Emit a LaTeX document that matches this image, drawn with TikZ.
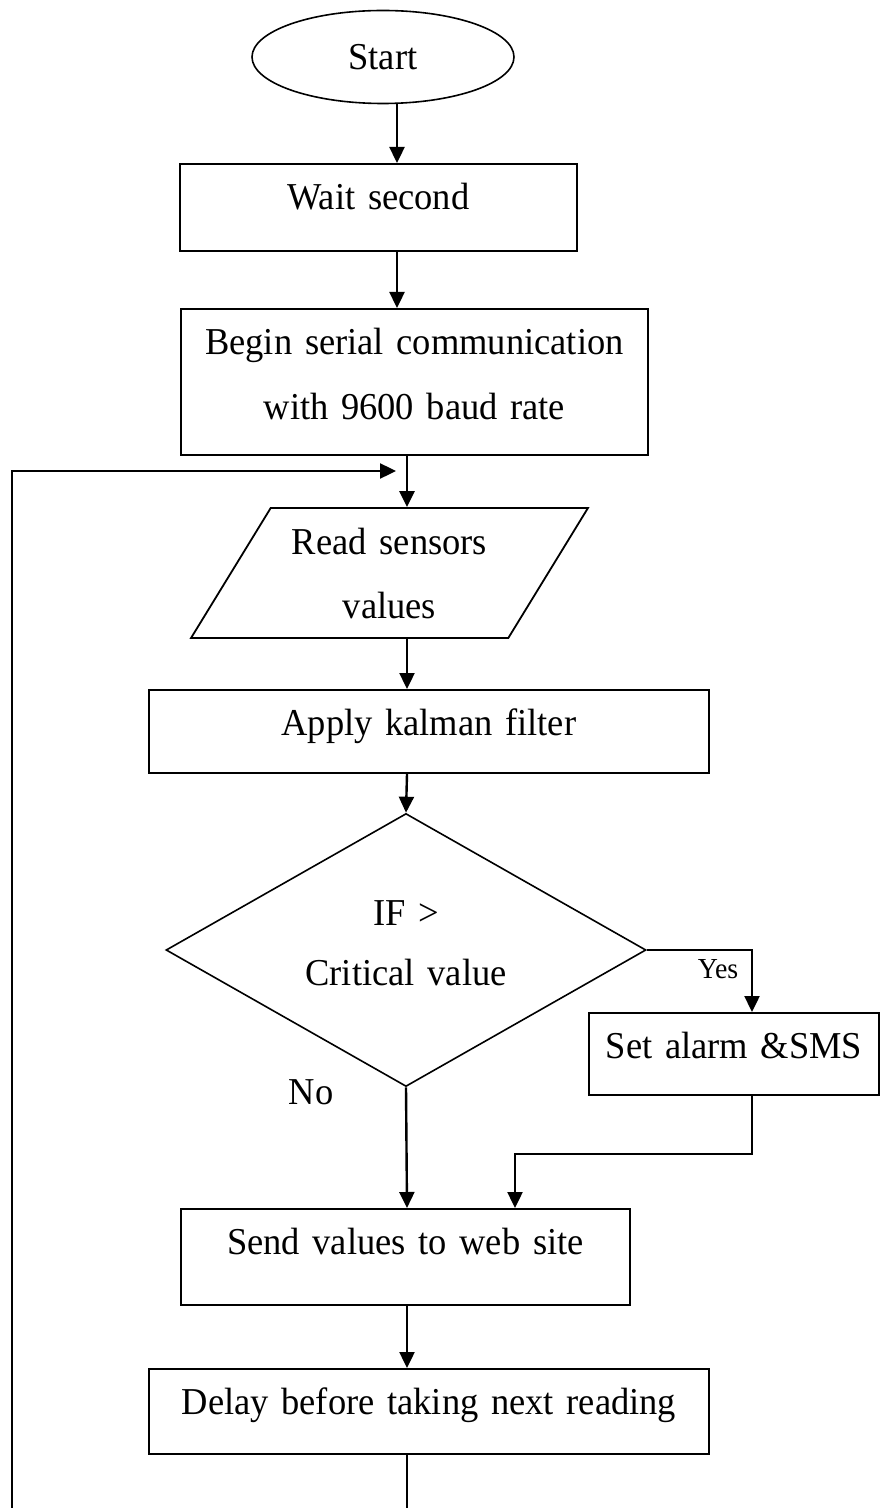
\documentclass[tikz,border=0pt]{standalone}
\usepackage{fontspec}
\setmainfont{Liberation Serif}[FakeStretch=0.96]
\usetikzlibrary{arrows.meta,shapes.geometric}

\begin{document}
\begin{tikzpicture}[x=0.5pt,y=-0.5pt,
    every node/.style={font=\fontsize{19}{32.5}\selectfont},
    box/.style={draw,line width=0.9pt,inner sep=0pt,align=center,text height=23pt,anchor=north west},
    flow/.style={line width=1.2pt,-{Triangle[length=8pt,width=7.5pt]}}]
      \useasboundingbox (0,0) rectangle (879,1508);
      % columns the connectors run in
      \coordinate (colA) at (397,0);
      \coordinate (colB) at (407,0);
      \coordinate (colC) at (752,0);
      \coordinate (colD) at (515,0);
      \node[draw,ellipse,line width=0.8pt,inner sep=0pt,minimum width=131pt,minimum height=46.5pt] (start) at (383,57) {Start};
      \node[box,text width=198.5pt,text depth=20.5pt] (wait) at (179,163) {Wait second};
      \node[box,text width=233.5pt,text depth=50pt] (begin) at (180,308) {Begin serial communication\\with 9600 baud rate};
      \node[draw,trapezium,trapezium left angle=58.5,trapezium right angle=121.5,line width=0.9pt,inner sep=0pt,align=center,text width=118.8pt,text height=23pt,text depth=42pt] (read) at (389.5,573) {Read sensors\\[-0.5pt]values};
      \node[box,text width=280pt,text depth=18.5pt] (apply) at (148,689) {Apply kalman filter};
      \node[draw,diamond,aspect=1.76,line width=0.8pt,inner sep=0pt,minimum width=240pt,minimum height=136.5pt,align=center,text width=110pt,text height=10pt,text depth=35pt] (test) at (406,950) {IF >\\[-2.5pt]Critical value};
      \node[box,text width=145pt,text depth=18pt] (alarm) at (588,1012) {Set alarm \&SMS};
      \node[box,text width=224.5pt,text depth=25pt] (send) at (180,1208) {Send values to web site};
      \node[box,text width=280pt,text depth=19.5pt] (delay) at (148,1368) {Delay before taking next reading};
      \node[font=\fontsize{14.5}{17}\selectfont] (yes) at (718,969) {Yes};
      \node (no) at (311,1092) {No};
      % free ends of the loop, cut by the page edge
      \coordinate (loop) at (12,1508);
      \coordinate (back) at (396,471);
      \coordinate (cut) at (0,1508);
      \draw[flow] (start.south -| colA) -- (wait.north -| colA);
      \draw[flow] (wait.south -| colA) -- (begin.north -| colA);
      \draw[flow] (begin.south -| colB) -- (read.north -| colB);
      \draw[flow] (read.south -| colB) -- (apply.north -| colB);
      \draw[flow] (apply.south -| colB) -- (test.north);
      \draw[flow] (test.east) -| (alarm.north -| colC);
      \draw[flow] (test.south) -- (send.north -| colB);
      \draw[flow] (alarm.south -| colC) -- ++(0,58) -| (send.north -| colD);
      \draw[flow] (send.south -| colB) -- (delay.north -| colB);
      \draw[line width=1.2pt] (delay.south -| colB) -- (cut -| colB);
      \draw[flow] (loop) |- (back);
    \end{tikzpicture}
\end{document}
